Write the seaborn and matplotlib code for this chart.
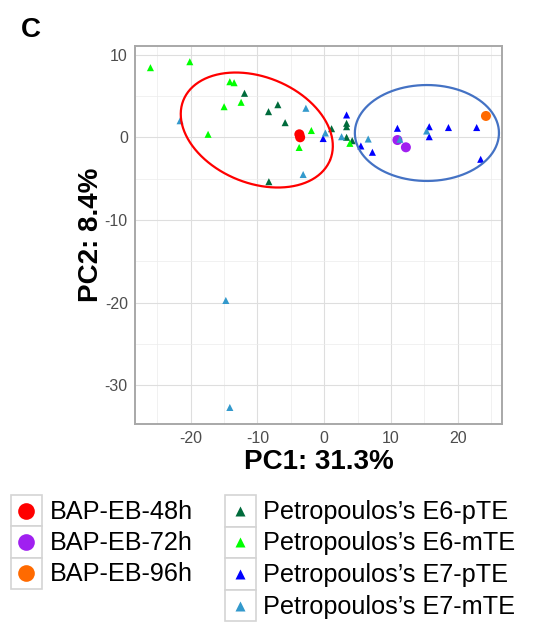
import numpy as np
import pandas as pd
import matplotlib
matplotlib.use("Agg")
import matplotlib.pyplot as plt
from matplotlib.patches import Rectangle
from matplotlib.ticker import MultipleLocator
import seaborn as sns

# ---------------- data ----------------
bap_groups = ["BAP-EB-48h", "BAP-EB-72h", "BAP-EB-96h"]
pet_groups = ["Petropoulos\u2019s E6-pTE", "Petropoulos\u2019s E6-mTE",
              "Petropoulos\u2019s E7-pTE", "Petropoulos\u2019s E7-mTE"]

bap48_x = [-3.72, -3.60]
bap48_y = [0.36, 0.00]
bap72_x = [10.98, 12.25]
bap72_y = [-0.33, -1.21]
bap96_x = [24.25]
bap96_y = [2.58]

e6p_x = [-11.94, -6.94, -8.34, -5.85, 1.11, 3.36, 3.36, 3.36, 4.20, -8.29]
e6p_y = [5.32, 3.94, 3.10, 1.77, 1.04, 1.69, 1.28, 0.00, -0.41, -5.37]
e6m_x = [-26.04, -20.14, -14.14, -13.50, -15.00, -12.45, -17.40, -1.92, -3.75, 3.85]
e6m_y = [8.42, 9.14, 6.72, 6.60, 3.70, 4.23, 0.36, 0.82, -1.23, -0.73]
e7p_x = [-0.15, 3.36, 5.50, 7.23, 10.98, 15.75, 15.75, 18.63, 22.86, 23.46]
e7p_y = [-0.15, 2.70, -1.05, -1.81, 1.09, 1.28, 0.07, 1.18, 1.18, -2.66]
e7m_x = [-21.60, -2.74, 0.18, 2.61, 6.60, -3.15, 11.35, 15.36, -14.74, -14.14]
e7m_y = [2.00, 3.51, 0.52, 0.07, -0.21, -4.50, -0.24, 0.76, -19.73, -32.67]

bap_colors = ["#FF0000", "#A020F0", "#FF6A00"]
pet_colors = ["#006B3C", "#00FF00", "#0000FF", "#3399CC"]

# ellipses: center, semi-axis vector A, semi-axis vector B (data units)
ell_red_center = (-10.1, 0.88)
ell_red_A = (10.99, -3.63)
ell_red_B = (3.02, 5.93)
ell_blue_center = (15.4, 0.52)
ell_blue_A = (10.8, 0.0)
ell_blue_B = (0.0, 5.8)

x_ticks = [-20, -10, 0, 10, 20]
y_ticks = [-30, -20, -10, 0, 10]

# ---------------- frames ----------------
df_bap = pd.DataFrame({
    "x": bap48_x + bap72_x + bap96_x,
    "y": bap48_y + bap72_y + bap96_y,
    "group": [bap_groups[0]] * len(bap48_x) + [bap_groups[1]] * len(bap72_x)
             + [bap_groups[2]] * len(bap96_x),
})
df_pet = pd.DataFrame({
    "x": e6p_x + e6m_x + e7p_x + e7m_x,
    "y": e6p_y + e6m_y + e7p_y + e7m_y,
    "group": [pet_groups[0]] * len(e6p_x) + [pet_groups[1]] * len(e6m_x)
             + [pet_groups[2]] * len(e7p_x) + [pet_groups[3]] * len(e7m_x),
})

sns.set_style("white")
plt.rcParams["font.family"] = ["Liberation Sans", "DejaVu Sans"]
plt.rcParams["axes.unicode_minus"] = False
plt.rcParams["text.color"] = "black"
plt.rcParams["axes.labelcolor"] = "black"

fig = plt.figure(figsize=(5.4, 6.24), dpi=100)
ax = fig.add_axes([134.7 / 540, 1 - 424 / 624, (502.3 - 134.7) / 540, (424 - 46) / 624])

sns.scatterplot(data=df_bap, x="x", y="y", hue="group",
                palette=dict(zip(bap_groups, bap_colors)), marker="o",
                s=52, linewidth=0, legend=False, ax=ax, zorder=3)
sns.scatterplot(data=df_pet, x="x", y="y", hue="group",
                palette=dict(zip(pet_groups, pet_colors)), marker="^",
                s=26, linewidth=0, legend=False, ax=ax, zorder=4)

t = np.linspace(0, 2 * np.pi, 300)
for c, A, B, col in [(ell_red_center, ell_red_A, ell_red_B, "#FF0000"),
                     (ell_blue_center, ell_blue_A, ell_blue_B, "#4472C4")]:
    ex = c[0] + A[0] * np.cos(t) + B[0] * np.sin(t)
    ey = c[1] + A[1] * np.cos(t) + B[1] * np.sin(t)
    ax.plot(ex, ey, color=col, lw=1.6, zorder=5)

ax.set_xlim(-28.4, 26.7)
ax.set_ylim(-34.67, 11.04)
ax.set_xticks(x_ticks)
ax.set_yticks(y_ticks)
ax.xaxis.set_minor_locator(MultipleLocator(5))
ax.yaxis.set_minor_locator(MultipleLocator(5))
ax.grid(True, which="major", color="#DEDEDE", lw=0.8, zorder=0)
ax.grid(True, which="minor", color="#ECECEC", lw=0.5, zorder=0)
ax.set_axisbelow(True)
for sp in ax.spines.values():
    sp.set_color("#A8A8A8")
    sp.set_linewidth(1.4)
ax.tick_params(which="major", length=3, width=0.9, color="#A8A8A8",
               labelcolor="#4D4D4D", labelsize=11.5, pad=2)
ax.tick_params(which="minor", length=0)
ax.set_xlabel("PC1: 31.3%", fontsize=20, fontweight="bold", labelpad=2)
ax.set_ylabel("PC2: 8.4%", fontsize=20, fontweight="bold")
ax.yaxis.set_label_coords((104 - 134.7) / 367.6, 0.5)

fig.text(21 / 540, 1 - 30 / 624, "C", fontsize=20, fontweight="bold", va="center", ha="left")

# ---------------- legends ----------------
lg = fig.add_axes([0, 0, 1, 1])
lg.set_xlim(0, 540)
lg.set_ylim(624, 0)
lg.axis("off")
lg.patch.set_alpha(0)

def draw_legend(x0, y0, w, h, names, colors, marker, ms, tx):
    for i, (n, c) in enumerate(zip(names, colors)):
        yt = y0 + i * h
        lg.add_patch(Rectangle((x0, yt), w, h, facecolor="white",
                               edgecolor="#D4D4D4", lw=1.2))
        lg.plot(x0 + w / 2, yt + h / 2, marker=marker, ms=ms, color=c, mec="none")
        lg.text(tx, yt + h / 2 + 1, n, fontsize=18.2, va="center", ha="left", color="black")

draw_legend(11, 495, 30.5, 31.3, bap_groups, bap_colors, "o", 12, 50)
draw_legend(225, 495, 30.8, 31.6, pet_groups, pet_colors, "^", 6.5, 263)

fig.savefig("out.png", dpi=100)
